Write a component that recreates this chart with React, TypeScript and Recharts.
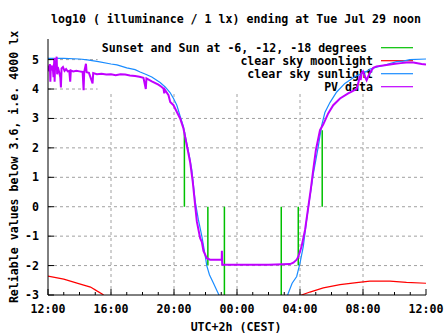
import { LineChart, Line, XAxis, YAxis, ReferenceLine } from 'recharts';

const FONT = '"DejaVu Sans Mono", monospace';
const FS = 11.6;

// x values are hours after 12:00 (Jul 28) -> 24 = Tue Jul 29 noon
const hourTicks = [0, 1, 2, 3, 4, 5, 6, 7, 8, 9, 10, 11, 12, 13, 14, 15, 16, 17, 18, 19, 20, 21, 22, 23, 24];
const majorHours = [0, 4, 8, 12, 16, 20, 24];
const hourLabels = ['12:00', '16:00', '20:00', '00:00', '04:00', '08:00', '12:00'];
const levelTicks = [-3, -2, -1, 0, 1, 2, 3, 4, 5];

// sunset / sun at -6, -12 and sunrise markers (drawn from 0 to level)
const eventHours = [8.66, 10.15, 11.2, 14.81, 15.89, 17.41];
const eventLevels = [2.55, -2.0, -3.0, -3.0, -2.0, 2.6];

const moonHours = [0, 1.0, 2.0, 2.7, 3.1, 3.46, 3.7, 9, 15.8, 16.1, 16.63, 17.48, 18.54, 19.59, 20.44, 21.71, 22.76, 24];
const moonLog = [-2.36, -2.46, -2.62, -2.73, -2.86, -2.97, -3.1, null, -3.1, -3.0, -2.9, -2.76, -2.65, -2.58, -2.53, -2.53, -2.57, -2.6];

const sunHours = [0, 1.0, 2.0, 2.5, 3.2, 4.0, 4.38, 5.0, 5.53, 5.85, 6.2, 6.59, 7.12, 7.44, 7.75, 7.97, 8.18, 8.39, 8.6, 8.81, 8.98, 9.13, 9.34, 9.55, 9.77, 9.97, 10.08, 10.25, 10.5, 10.75, 10.9, 11.0, 13, 15.1, 15.26, 15.5, 15.79, 16.0, 16.21, 16.42, 16.63, 16.84, 17.16, 17.37, 17.58, 17.9, 18.33, 18.85, 19.38, 19.59, 20.23, 20.44, 21.28, 22.13, 22.55, 22.97, 24];
const sunLog = [5.04, 5.04, 5.02, 4.99, 4.93, 4.85, 4.82, 4.72, 4.66, 4.58, 4.5, 4.41, 4.22, 4.07, 3.88, 3.68, 3.45, 3.08, 2.72, 2.15, 1.7, 1.25, 0.2, -0.45, -1.01, -1.63, -2.0, -2.31, -2.59, -2.88, -3.05, -3.2, null, -3.2, -2.93, -2.6, -2.37, -1.92, -1.35, -0.45, 0.34, 1.1, 2.04, 2.75, 3.2, 3.54, 3.9, 4.19, 4.38, 4.45, 4.6, 4.68, 4.8, 4.93, 4.95, 5.0, 5.02];

const pvHours = [0, 0.08, 0.12, 0.15, 0.18, 0.25, 0.3, 0.35, 0.4, 0.42, 0.45, 0.5, 0.55, 0.58, 0.62, 0.7, 0.78, 0.82, 0.86, 0.95, 1.05, 1.15, 1.25, 1.35, 1.41, 1.45, 1.6, 1.8, 2.0, 2.2, 2.26, 2.3, 2.41, 2.45, 2.6, 2.83, 2.87, 3.1, 3.4, 3.7, 4.0, 4.3, 4.6, 4.9, 5.2, 5.53, 5.8, 6.06, 6.21, 6.25, 6.59, 7.01, 7.2, 7.33, 7.38, 7.42, 7.65, 7.76, 7.97, 8.07, 8.39, 8.6, 8.81, 9.02, 9.19, 9.34, 9.45, 9.66, 9.77, 9.87, 10.08, 10.29, 11.03, 11.04, 11.06, 12.0, 14.0, 15.37, 15.58, 15.79, 15.9, 16.1, 16.32, 16.53, 16.68, 16.84, 17.01, 17.27, 17.48, 17.79, 18.11, 18.54, 19.06, 19.59, 19.7, 19.8, 19.85, 19.91, 20.0, 20.1, 20.23, 20.35, 20.5, 20.65, 20.86, 21.28, 21.92, 22.4, 22.76, 23.2, 23.72, 24];
const pvLog = [4.8, 4.6, 4.85, 4.25, 4.8, 4.7, 4.75, 4.4, 5.05, 4.25, 4.8, 4.65, 5.1, 4.5, 4.75, 4.6, 4.4, 4.05, 4.7, 4.75, 4.62, 4.68, 4.6, 4.62, 4.25, 4.63, 4.6, 4.62, 4.6, 4.58, 3.96, 4.58, 4.86, 4.57, 4.55, 4.19, 4.54, 4.5, 4.52, 4.49, 4.5, 4.47, 4.5, 4.49, 4.46, 4.44, 4.42, 4.38, 4.0, 4.36, 4.26, 4.15, 4.08, 4.02, 3.85, 3.98, 3.79, 3.56, 3.45, 3.34, 3.0, 2.66, 2.1, 1.53, 0.85, 0.06, -0.5, -1.07, -1.2, -1.5, -1.75, -1.8, -1.8, -1.5, -1.97, -1.97, -1.97, -1.95, -1.9, -1.8, -1.69, -1.35, -0.79, 0.0, 0.57, 1.25, 1.93, 2.6, 2.8, 3.17, 3.45, 3.68, 3.85, 4.0, 4.2, 4.45, 4.3, 4.55, 4.6, 4.45, 4.3, 4.45, 4.6, 4.72, 4.77, 4.8, 4.85, 4.88, 4.9, 4.9, 4.85, 4.83];

const toPoints = (hours: number[], values: (number | null)[]) =>
  hours.map((t, i) => ({ t, v: values[i] }));

const eventData = eventHours.flatMap((t, i) => [
  { t, v: 0 },
  { t, v: eventLevels[i] },
  { t, v: null },
]);
const moonData = toPoints(moonHours, moonLog);
const sunData = toPoints(sunHours, sunLog);
const pvData = toPoints(pvHours, pvLog);

const legendItems = [
  { label: 'Sunset and Sun at -6, -12, -18 degrees', color: '#00c000', end: 367 },
  { label: 'clear sky moonlight', color: '#ff0000', end: 373 },
  { label: 'clear sky sunlight', color: '#1a8cff', end: 373 },
  { label: 'PV data', color: '#c000ff', end: 373 },
];

const GRID = { stroke: '#a0a0a0', strokeDasharray: '3 3', strokeWidth: 1 };

const textStyle = { fontFamily: FONT, fontSize: FS, fontWeight: 'bold' as const, fill: '#000' };

const BottomTick = (props: any) => {
  const { x, y, payload } = props;
  const idx = majorHours.indexOf(payload.value);
  return (
    <g>
      <line x1={x} y1={y} x2={x} y2={y - (idx >= 0 ? 6 : 3)} stroke="#000" />
      {idx >= 0 && (
        <text x={x} y={y + 17.5} textAnchor="middle" {...textStyle}>
          {hourLabels[idx]}
        </text>
      )}
    </g>
  );
};

const TopTick = (props: any) => {
  const { x, y, payload } = props;
  const major = majorHours.includes(payload.value);
  return <line x1={x} y1={y} x2={x} y2={y + (major ? 6 : 3)} stroke="#000" />;
};

const LeftTick = (props: any) => {
  const { x, y, payload } = props;
  return (
    <g>
      <line x1={x} y1={y} x2={x + 6} y2={y} stroke="#000" />
      <text x={x - 9} y={y + 4} textAnchor="end" {...textStyle}>
        {payload.value}
      </text>
    </g>
  );
};

const RightTick = (props: any) => {
  const { x, y } = props;
  return <line x1={x} y1={y} x2={x - 6} y2={y} stroke="#000" />;
};

export default function App() {
  return (
    <div style={{ position: 'absolute', left: 0, top: 0, width: 447, height: 335, background: '#fff' }}>
      <svg width={447} height={335} style={{ position: 'absolute', left: 0, top: 0 }}>
        <text x={236} y={23} textAnchor="middle" {...textStyle}>
          log10 ( illuminance / 1 lx) ending at Tue Jul 29 noon
        </text>
        <text x={236} y={331} textAnchor="middle" {...textStyle}>
          UTC+2h (CEST)
        </text>
        <text
          x={0}
          y={0}
          textAnchor="middle"
          transform="translate(17.5 167) rotate(-90)"
          {...textStyle}
        >
          Reliable values below 3.6, i.e. 4000 lx
        </text>
        {legendItems.map((item, i) => {
          const cy = 47.7 + i * 13;
          return (
            <g key={item.label}>
              <text x={item.end} y={cy + 4} textAnchor="end" {...textStyle}>
                {item.label}
              </text>
              <line x1={381} y1={cy} x2={413} y2={cy} stroke={item.color} strokeWidth={1.2} />
            </g>
          );
        })}
      </svg>
      <div style={{ position: 'absolute', left: 0, top: 0 }}>
        <LineChart width={447} height={335} margin={{ top: 39, right: 21, bottom: 10, left: 0 }}>
          <XAxis
            dataKey="t"
            type="number"
            domain={[0, 24]}
            ticks={hourTicks}
            interval={0}
            allowDataOverflow
            height={30}
            tickSize={0}
            tickMargin={0}
            tickLine={false}
            tick={<BottomTick />}
            axisLine={{ stroke: '#000' }}
          />
          <XAxis
            xAxisId="top"
            orientation="top"
            dataKey="t"
            type="number"
            domain={[0, 24]}
            ticks={hourTicks}
            interval={0}
            allowDataOverflow
            height={0}
            tickSize={0}
            tickMargin={0}
            tickLine={false}
            tick={<TopTick />}
            axisLine={{ stroke: '#000' }}
          />
          <YAxis
            type="number"
            domain={[-3, 5.7]}
            ticks={levelTicks}
            interval={0}
            allowDataOverflow
            width={48}
            tickSize={0}
            tickMargin={0}
            tickLine={false}
            tick={<LeftTick />}
            axisLine={{ stroke: '#000' }}
          />
          <YAxis
            yAxisId="right"
            orientation="right"
            type="number"
            domain={[-3, 5.7]}
            ticks={levelTicks}
            interval={0}
            allowDataOverflow
            width={0}
            tickSize={0}
            tickMargin={0}
            tickLine={false}
            tick={<RightTick />}
            axisLine={{ stroke: '#000' }}
          />
          {[-2, -1, 0, 1, 2, 3].map((lv) => (
            <ReferenceLine key={`h${lv}`} y={lv} {...GRID} />
          ))}
          {[4, 5].map((lv) => (
            <ReferenceLine key={`hs${lv}`} segment={[{ x: 0, y: lv }, { x: 3.15, y: lv }]} {...GRID} />
          ))}
          {[4, 8, 12, 16, 20].map((h) => (
            <ReferenceLine key={`v${h}`} segment={[{ x: h, y: -3 }, { x: h, y: 3.91 }]} {...GRID} />
          ))}
          <Line data={eventData} dataKey="v" stroke="#00c000" strokeWidth={1.5} dot={false} isAnimationActive={false} connectNulls={false} />
          <Line data={moonData} dataKey="v" stroke="#ff0000" strokeWidth={1.2} dot={false} isAnimationActive={false} connectNulls={false} />
          <Line data={sunData} dataKey="v" stroke="#1a8cff" strokeWidth={1.2} dot={false} isAnimationActive={false} connectNulls={false} />
          <Line data={pvData} dataKey="v" stroke="#c000ff" strokeWidth={2} dot={false} isAnimationActive={false} connectNulls={false} />
        </LineChart>
      </div>
    </div>
  );
}
